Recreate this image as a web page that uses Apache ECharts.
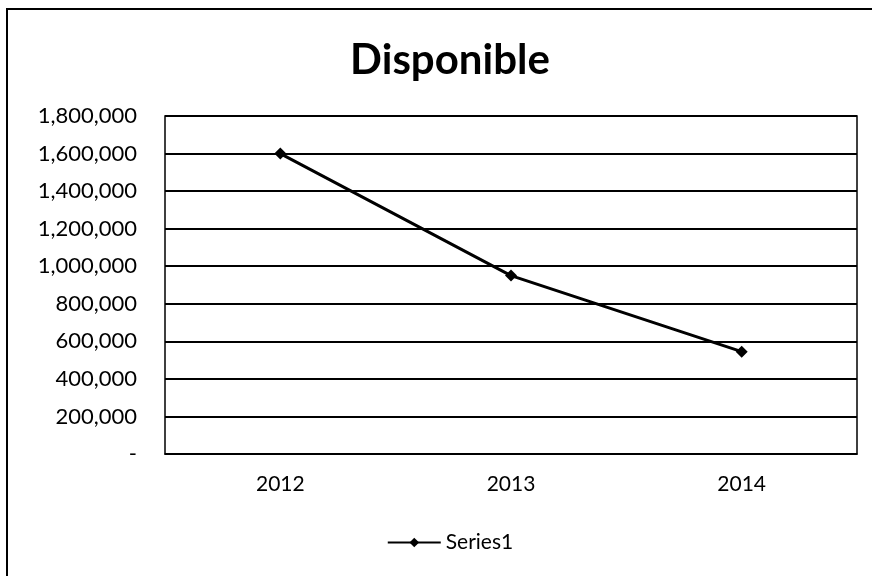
<!doctype html>
<html>
<head>
    <meta charset="utf-8">
    <title>Disponible</title>
    <style>
        html, body {
            margin: 0;
            padding: 0;
            background: #fff;
            overflow: hidden;
            width: 872px;
            height: 576px;
        }

        #chart {
            position: absolute;
            left: 6px;
            top: 8px;
            width: 886px;
            height: 600px;
            border-top: 2px solid #000;
            border-left: 2px solid #000;
            box-sizing: border-box;
        }
    </style>
</head>
<body>
    <div id="chart"></div>
    <script src="https://cdn.jsdelivr.net/npm/echarts@6/dist/echarts.min.js"></script>
    <script>
        var years = ['2012', '2013', '2014'];
        var disponible = [1600000, 950000, 545000];
        var font = 'Lato, "Open Sans", sans-serif';

        var formatValue = function (v) {
            if (v === 0) {
                return '-';
            }
            return v.toLocaleString('en-US');
        };

        var myChart = echarts.init(document.getElementById('chart'));
        var option = {
            animation: false,
            title: {
                text: 'Disponible',
                left: 'center',
                top: 24,
                textStyle: {
                    fontFamily: font,
                    fontSize: 42,
                    fontWeight: 'bold',
                    color: '#000'
                }
            },
            grid: {
                left: 157,
                right: 35,
                top: 106,
                bottom: 154,
                show: true,
                borderColor: '#000',
                borderWidth: 1.5
            },
            legend: {
                top: 517,
                left: 'center',
                itemWidth: 53,
                itemHeight: 12,
                itemGap: 6,
                textStyle: {
                    fontFamily: font,
                    fontSize: 21,
                    color: '#000'
                },
                data: ['Series1']
            },
            xAxis: {
                type: 'category',
                data: years,
                boundaryGap: true,
                axisLine: { lineStyle: { color: '#000', width: 1.5 } },
                axisTick: { show: false },
                axisLabel: {
                    margin: 20,
                    fontFamily: font,
                    fontSize: 21,
                    color: '#000'
                }
            },
            yAxis: {
                type: 'value',
                min: 0,
                max: 1800000,
                interval: 200000,
                axisLine: { show: false },
                axisTick: { show: false },
                splitLine: { lineStyle: { color: '#000', width: 2 } },
                axisLabel: {
                    margin: 28,
                    fontFamily: font,
                    fontSize: 22,
                    color: '#000',
                    formatter: formatValue
                }
            },
            series: [
                {
                    name: 'Series1',
                    type: 'line',
                    data: disponible,
                    symbol: 'diamond',
                    symbolSize: 12,
                    lineStyle: { color: '#000', width: 3 },
                    itemStyle: { color: '#000' }
                }
            ]
        };
        myChart.setOption(option);
    </script>
</body>
</html>
